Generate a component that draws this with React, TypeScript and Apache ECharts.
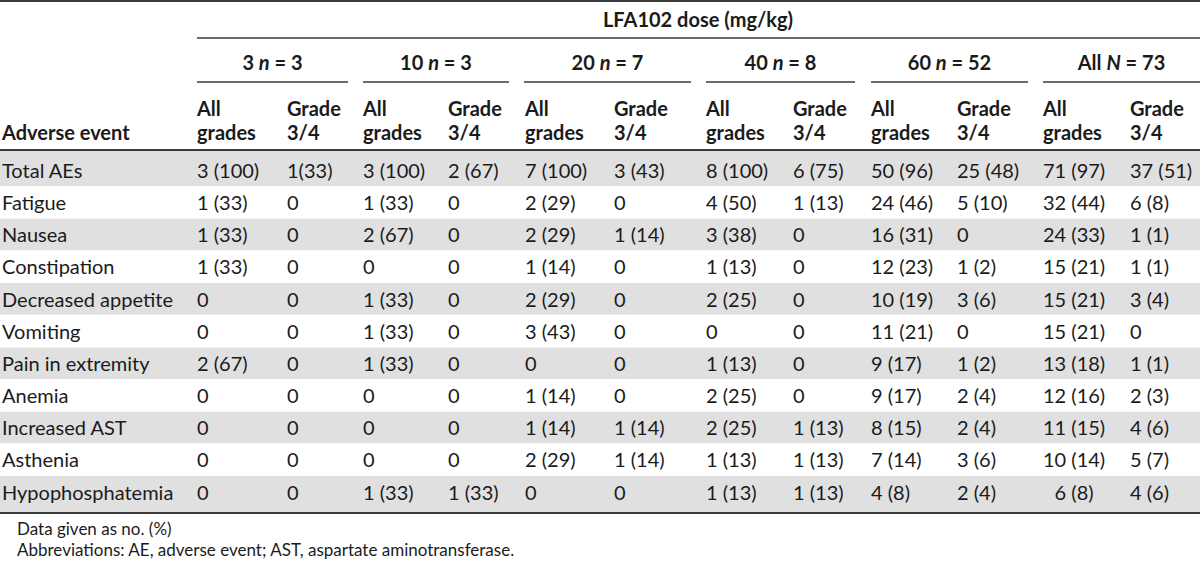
import React, { useEffect, useRef } from "react";
import * as echarts from "echarts";

// ---------- data ----------
const title = "LFA102 dose (mg/kg)";
const rowHeader = "Adverse event";
const events = [
  "Total AEs",
  "Fatigue",
  "Nausea",
  "Constipation",
  "Decreased appetite",
  "Vomiting",
  "Pain in extremity",
  "Anemia",
  "Increased AST",
  "Asthenia",
  "Hypophosphatemia",
];
const doseLabels = ["3", "10", "20", "40", "60", "All"];
const doseNSymbols = ["n", "n", "n", "n", "n", "N"];
const doseN = [3, 3, 7, 8, 52, 73];
const subHeaders = [["All", "grades"], ["Grade", "3/4"]];

const dose3All = ["3 (100)", "1 (33)", "1 (33)", "1 (33)", "0", "0", "2 (67)", "0", "0", "0", "0"];
const dose3G34 = ["1(33)", "0", "0", "0", "0", "0", "0", "0", "0", "0", "0"];
const dose10All = ["3 (100)", "1 (33)", "2 (67)", "0", "1 (33)", "1 (33)", "1 (33)", "0", "0", "0", "1 (33)"];
const dose10G34 = ["2 (67)", "0", "0", "0", "0", "0", "0", "0", "0", "0", "1 (33)"];
const dose20All = ["7 (100)", "2 (29)", "2 (29)", "1 (14)", "2 (29)", "3 (43)", "0", "1 (14)", "1 (14)", "2 (29)", "0"];
const dose20G34 = ["3 (43)", "0", "1 (14)", "0", "0", "0", "0", "0", "1 (14)", "1 (14)", "0"];
const dose40All = ["8 (100)", "4 (50)", "3 (38)", "1 (13)", "2 (25)", "0", "1 (13)", "2 (25)", "2 (25)", "1 (13)", "1 (13)"];
const dose40G34 = ["6 (75)", "1 (13)", "0", "0", "0", "0", "0", "0", "1 (13)", "1 (13)", "1 (13)"];
const dose60All = ["50 (96)", "24 (46)", "16 (31)", "12 (23)", "10 (19)", "11 (21)", "9 (17)", "9 (17)", "8 (15)", "7 (14)", "4 (8)"];
const dose60G34 = ["25 (48)", "5 (10)", "0", "1 (2)", "3 (6)", "0", "1 (2)", "2 (4)", "2 (4)", "3 (6)", "2 (4)"];
const doseAllAll = ["71 (97)", "32 (44)", "24 (33)", "15 (21)", "15 (21)", "15 (21)", "13 (18)", "12 (16)", "11 (15)", "10 (14)", "\u20076 (8)"];
const doseAllG34 = ["37 (51)", "6 (8)", "1 (1)", "1 (1)", "3 (4)", "0", "1 (1)", "2 (3)", "4 (6)", "5 (7)", "4 (6)"];

const footnotes = [
  "Data given as no. (%)",
  "Abbreviations: AE, adverse event; AST, aspartate aminotransferase.",
];

const columns = [
  dose3All, dose3G34, dose10All, dose10G34, dose20All, dose20G34,
  dose40All, dose40G34, dose60All, dose60G34, doseAllAll, doseAllG34,
];

// ---------- layout ----------
const W = 1200;
const H = 561;
const FONT = "Lato, 'Open Sans', sans-serif";
const FS = 20;
const FS_NOTE = 17;
const TXT = "#1b1b1b";
const LINE = "#3a3a3a";
const BAND = "#e0e0e0";
const colX = [197, 287, 363, 448, 525, 614, 706, 793, 871, 957, 1043, 1130];
const groupLineStart = [197, 363, 524, 706, 871, 1043];
const groupLineEnd = [348, 509, 691, 855, 1028, 1200];
const firstRowY = 170;
const rowStep = 32.15;

function buildGraphics() {
  const g: any[] = [];
  const rowY = (i: number) => firstRowY + i * rowStep;

  // background
  g.push({ type: "rect", shape: { x: 0, y: 0, width: W, height: H }, style: { fill: "#ffffff" }, silent: true });

  // bands
  events.forEach((_, i) => {
    if (i % 2 !== 0) return;
    const top = i === 0 ? 151 : rowY(i) - 15.5;
    const bottom = i === events.length - 1 ? 512 : rowY(i) + 16;
    g.push({ type: "rect", shape: { x: 0, y: top, width: W, height: bottom - top }, style: { fill: BAND }, silent: true });
  });

  // rules
  const hline = (x1: number, x2: number, y: number, w: number) =>
    g.push({ type: "line", shape: { x1, y1: y, x2, y2: y }, style: { stroke: LINE, lineWidth: w }, silent: true });
  hline(0, W, 1, 2);
  hline(197, W, 38, 1.6);
  groupLineStart.forEach((s, k) => hline(s, groupLineEnd[k], 82, 1.6));
  hline(0, W, 150, 1.8);
  hline(0, W, 513, 1.8);

  const text = (t: string, x: number, y: number, opts: any = {}) =>
    g.push({
      type: "text",
      x,
      y,
      style: {
        text: t,
        fill: TXT,
        font: `${opts.bold ? "bold " : ""}${opts.size || FS}px ${FONT}`,
        align: opts.align || "left",
        verticalAlign: "middle",
        ...(opts.rich ? { rich: opts.rich } : {}),
      },
      silent: true,
    });

  // title
  text(title, 698, 19, { bold: true, align: "center" });

  // dose groups
  const rich = {
    b: { fontFamily: FONT, fontSize: FS, fontWeight: "bold", fill: TXT },
    i: { fontFamily: FONT, fontSize: FS, fontWeight: "bold", fontStyle: "italic", fill: TXT },
  };
  doseLabels.forEach((d, k) => {
    const cx = (groupLineStart[k] + groupLineEnd[k]) / 2;
    text(`{b|${d} }{i|${doseNSymbols[k]}}{b| = ${doseN[k]}}`, cx, 62, { bold: true, align: "center", rich });
  });

  // sub headers
  colX.forEach((x, c) => {
    const sh = subHeaders[c % 2];
    text(sh[0], x, 108, { bold: true });
    text(sh[1], x, 132, { bold: true });
  });
  text(rowHeader, 2, 132, { bold: true });

  // body
  events.forEach((ev, i) => {
    const y = rowY(i);
    text(ev, 2, y);
    columns.forEach((col, c) => text(col[i], colX[c], y));
  });

  // footnotes
  text(footnotes[0], 17, 528, { size: FS_NOTE });
  text(footnotes[1], 17, 549, { size: FS_NOTE });

  return g;
}

export default function App() {
  const ref = useRef<HTMLDivElement>(null);
  useEffect(() => {
    if (!ref.current) return;
    const chart = echarts.init(ref.current, undefined, { renderer: "svg" });
    chart.setOption({
      animation: false,
      backgroundColor: "#ffffff",
      graphic: { elements: buildGraphics() },
    });
    return () => chart.dispose();
  }, []);
  return (
    <div
      ref={ref}
      style={{ position: "fixed", left: 0, top: 0, width: W, height: H, background: "#fff" }}
    />
  );
}
